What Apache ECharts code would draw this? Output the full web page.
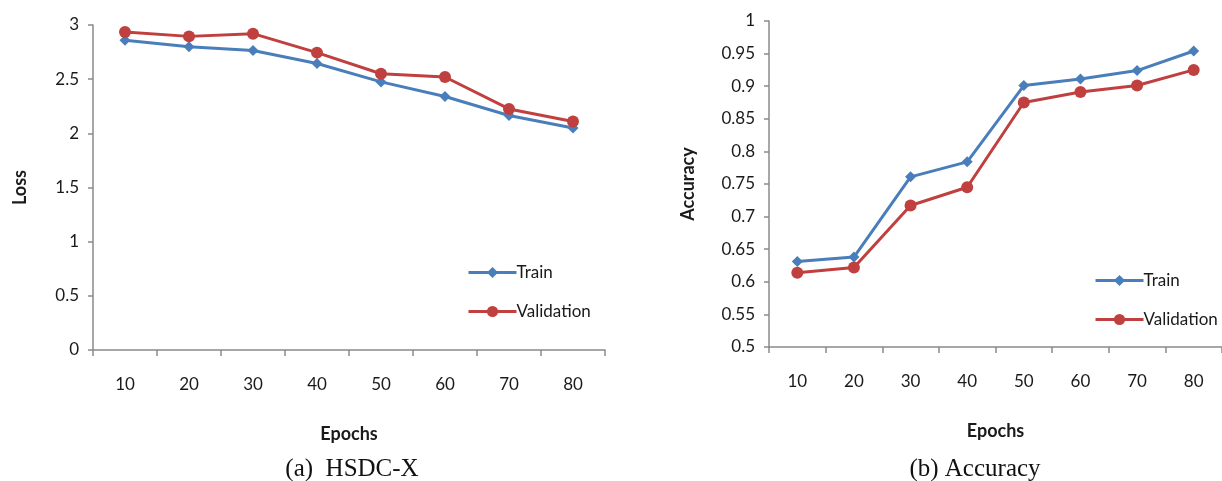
<!DOCTYPE html>
<html><head><meta charset="utf-8">
<script src="https://cdn.jsdelivr.net/npm/echarts@6/dist/echarts.min.js"></script>
<style>html,body{margin:0;padding:0;background:#fff}#c{width:1222px;height:481px}</style>
</head><body><div id="c"></div>
<script>
const epochs = ['10','20','30','40','50','60','70','80'];
const lossTrain = [2.86, 2.80, 2.765, 2.645, 2.475, 2.34, 2.165, 2.05];
const lossVal = [2.935, 2.895, 2.92, 2.745, 2.55, 2.52, 2.225, 2.11];
const accTrain = [0.631, 0.638, 0.761, 0.784, 0.901, 0.911, 0.924, 0.954];
const accVal = [0.614, 0.622, 0.717, 0.745, 0.875, 0.891, 0.901, 0.925];
const captions = ['(a)  HSDC-X', '(b) Accuracy'];

const blue = '#4a7ebb', red = '#c0403f';
const axisGray = '#8a8a8a';
const font = 'Lato';
const axisCommon = {
  axisLine: {show: true, lineStyle: {color: axisGray, width: 1.5}},
  axisTick: {show: true, lineStyle: {color: axisGray, width: 1.5}, length: 5},
  axisLabel: {color: '#1a1a1a', fontFamily: font, fontSize: 17},
  splitLine: {show: false},
  nameTextStyle: {color: '#1a1a1a', fontFamily: font, fontSize: 18, fontWeight: 'bold'}
};
function xAx(gi){
  return Object.assign({}, axisCommon, {type:'category', gridIndex: gi, data: epochs, boundaryGap: true,
    name: 'Epochs', nameLocation: 'middle', nameGap: 75,
    axisTick: {show: true, alignWithLabel: false, lineStyle: {color: axisGray, width: 1.5}, length: 6},
    axisLabel: Object.assign({}, axisCommon.axisLabel, {margin: 26})});
}
function ser(name, data, gi, color, sym, size){
  return {name, type:'line', xAxisIndex: gi, yAxisIndex: gi, data, symbol: sym, symbolSize: size,
    lineStyle:{color, width: 3}, itemStyle:{color}, animation:false};
}
const legendCommon = {orient:'vertical', itemWidth: 48, itemHeight: 14, itemGap: 22,
  textStyle:{fontFamily:font, fontSize:17, color:'#1a1a1a', padding:[0,0,0,-5]},
  lineStyle:{width: 3}, selectedMode:false};
const chart = echarts.init(document.getElementById('c'));
chart.setOption({
  backgroundColor: '#fff',
  title: [
    {text: captions[0], left: 347, top: 452, textAlign: 'center', textStyle:{fontFamily:'Liberation Serif', fontSize: 25, fontWeight:'normal', color:'#111'}},
    {text: captions[1], left: 970, top: 452, textAlign: 'center', textStyle:{fontFamily:'Liberation Serif', fontSize: 25, fontWeight:'normal', color:'#111'}}
  ],
  grid: [
    {left: 93, top: 25, width: 512, height: 325},
    {left: 769, top: 21, width: 458, height: 326}
  ],
  xAxis: [xAx(0), xAx(1)],
  yAxis: [
    Object.assign({}, axisCommon, {type:'value', gridIndex:0, min:0, max:3, interval:0.5,
      name:'Loss', nameLocation:'middle', nameGap: 64, nameRotate: 90,
      axisLabel: Object.assign({}, axisCommon.axisLabel, {margin: 14})}),
    Object.assign({}, axisCommon, {type:'value', gridIndex:1, min:0.5, max:1, interval:0.05,
      name:'Accuracy', nameLocation:'middle', nameGap: 72, nameRotate: 90,
      axisLabel: Object.assign({}, axisCommon.axisLabel, {margin: 14})})
  ],
  legend: [
    Object.assign({}, legendCommon, {left: 462, top: 259, data:['Train','Validation']}),
    Object.assign({}, legendCommon, {left: 1089, top: 267, data:['Train ','Validation ']})
  ],
  series: [
    ser('Train', lossTrain, 0, blue, 'diamond', 11),
    ser('Validation', lossVal, 0, red, 'circle', 12),
    ser('Train ', accTrain, 1, blue, 'diamond', 11),
    ser('Validation ', accVal, 1, red, 'circle', 12)
  ]
});
</script></body></html>
